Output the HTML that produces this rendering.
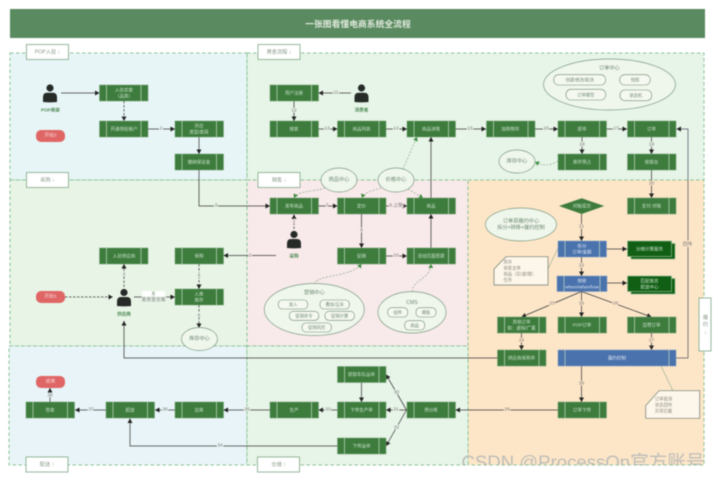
<!DOCTYPE html>
<html><head><meta charset="utf-8">
<style>
html,body{margin:0;padding:0;background:#fff;width:720px;height:481px;overflow:hidden}
svg{display:block;filter:blur(.4px)}
text{font-family:"Liberation Sans","Noto Sans CJK SC",sans-serif;text-anchor:middle;dominant-baseline:central}
.z{stroke:#8cc496;stroke-width:1;stroke-dasharray:3.5 2.5}
.n{fill:#3e7c3e;stroke:#6ea06e;stroke-width:.5}
.nb{fill:#4a72ac;stroke:#7d9cc8;stroke-width:.5}
.nd{fill:#115f15;stroke:#8fb98f;stroke-width:.7}
.b{stroke:#c3dcc3;stroke-width:.7;fill:none}
.t{font-size:4.5px;fill:#c9e0c9}
.tw{font-size:4.5px;fill:#d9e4f3}
.l{stroke:#3a3a3a;stroke-width:.75;fill:none;marker-end:url(#a)}
.ld{stroke:#3a3a3a;stroke-width:.75;fill:none;marker-end:url(#a);stroke-dasharray:2.5 1.5}
.g{stroke:#7fa57f;stroke-width:.6;fill:none;stroke-dasharray:2 1.5;marker-end:url(#g)}
.num{font-size:4.8px;fill:#777;paint-order:stroke;stroke-width:1.8}
.lg{stroke:#e8f4e8}.lr{stroke:#f8e9ea}.lo{stroke:#fde6c8}.lb{stroke:#e8f5f7}
.e{fill:#eff6ec;stroke:#7c9b80;stroke-width:.7}
.et{font-size:5.2px;fill:#6f8a72}
.pl{fill:#f5f8f1;stroke:#6f8a72;stroke-width:.6}
.pt{font-size:4.3px;fill:#6f8a72}
.zb{fill:#fff;stroke:#7da684;stroke-width:.8}
.zt{font-size:5.2px;fill:#8a9a8a}
.r{fill:#e06666}
.rt{font-size:4.8px;fill:#f8d6d6}
.p{fill:#262b28}
.pn{font-size:4.6px;fill:#4f8a55;font-weight:bold}
.nt{fill:#fdf6ea;stroke:#6d7a6d;stroke-width:.7}
.ntt{font-size:4.3px;fill:#8a8a80;text-anchor:start}
</style></head><body>
<svg width="720" height="481" viewBox="0 0 720 481" xmlns="http://www.w3.org/2000/svg">
<defs>
<marker id="a" markerUnits="userSpaceOnUse" markerWidth="5" markerHeight="5" refX="4.5" refY="2.5" orient="auto"><path d="M0 0L4.5 2.5L0 5z" fill="#222"/></marker>
<marker id="g" markerUnits="userSpaceOnUse" markerWidth="5" markerHeight="5" refX="4" refY="2.5" orient="auto"><path d="M0 0L4 2.5L0 5z" fill="#3e8c3e"/></marker>
<clipPath id="wm"><rect x="440" y="440" width="265" height="25"/></clipPath>
</defs>
<rect width="720" height="481" fill="#fff"/>

<!-- title -->
<rect x="10" y="9" width="695" height="29" fill="#5a8a5f"/>
<text x="358" y="24" style="font-size:8.8px;font-weight:bold;fill:#dfe9dc">一张图看懂电商系统全流程</text>

<!-- zones -->
<rect class="z" x="10" y="53" width="237" height="127" fill="#e8f5f7"/>
<rect class="z" x="247" y="53" width="457" height="127" fill="#e7f4e8"/>
<rect class="z" x="10" y="180" width="237" height="166" fill="#e8f4e6"/>
<rect class="z" x="247" y="180" width="221" height="166" fill="#f8e9ea"/>
<rect class="z" x="468" y="180" width="236" height="285" fill="#fde6c8"/>
<rect class="z" x="9" y="346" width="238" height="119" fill="#e8f4f7"/>
<rect class="z" x="247" y="346" width="221" height="119" fill="#e7f4e8"/>

<!-- watermark -->
<g clip-path="url(#wm)"><text x="583" y="468.500" style="font-size:18.6px;fill:#bdbdb8;dominant-baseline:auto">CSDN @ProcessOn官方账号</text></g>

<!-- zone labels -->
<rect class="zb" x="26.5" y="44.5" width="42" height="15"/><text class="zt" x="47.5" y="52.5">POP入驻 ↓</text>
<rect class="zb" x="258" y="44.5" width="42" height="15"/><text class="zt" x="279" y="52.5">黄金流程 ↓</text>
<rect class="zb" x="26.5" y="172.5" width="42" height="15"/><text class="zt" x="47.5" y="180.5">采购 ↓</text>
<rect class="zb" x="258" y="172.5" width="42" height="15"/><text class="zt" x="279" y="180.5">销售 ↓</text>
<rect class="zb" x="26" y="457" width="42" height="15"/><text class="zt" x="47" y="465">配送 ↑</text>
<rect class="zb" x="257.5" y="457" width="42" height="15"/><text class="zt" x="278.5" y="465">仓储 ↑</text>
<rect class="zb" x="699" y="298" width="12" height="53"/>
<text class="zt" x="705.5" y="318">履</text><text class="zt" x="705.5" y="325">约</text><text class="zt" x="705.5" y="333">↓</text>

<!-- connectors -->
<path class="l" d="M61 93H99.5"/>
<path class="ld" d="M124 101V121"/>
<path class="l" d="M148 129H175"/>
<path class="l" d="M199 137V154"/>
<path class="l" d="M199 170V206H270"/>
<path class="l" d="M351 93H318.5"/>
<path class="l" d="M294 101V121"/>
<path class="l" d="M318.500 129H337.500"/>
<path class="l" d="M386 129H407"/>
<path class="l" d="M455 129H486"/>
<path class="l" d="M535 129H558"/>
<path class="l" d="M606 129H627"/>
<path class="l" d="M582 137V154"/>
<path class="l" d="M651.500 137V154"/>
<path class="l" d="M651.500 170V198"/>
<path class="g" d="M558 161C550 166 544 166 535 162"/>
<path class="g" d="M403 169L417 137"/>
<path class="l" d="M431 198V137"/>
<path class="g" d="M325 188C315 192 298 190 294 198"/>
<path class="g" d="M381 188C372 191 364 192 362 198"/>
<path class="g" d="M408 189L423 198"/>
<path class="l" d="M318.500 206H337.500"/>
<path class="l" d="M386 206H407"/>
<path class="l" d="M361.500 214V248"/>
<path class="l" d="M386 256H407"/>
<path class="l" d="M431 248V214"/>
<path class="ld" d="M294 229V214.500"/>
<path class="l" d="M276 255.500H223.500"/>
<path class="ld" d="M199 264V289"/>
<path class="l" d="M134 297H175"/>
<path class="ld" d="M124 287V264"/>
<path class="ld" d="M65 297H113"/>
<path class="ld" d="M199 305V328"/>
<path class="l" d="M497.500 358H124V321"/>
<path class="l" d="M676 358H688V129H676.500" style="stroke:#556"/>
<path class="l" d="M581.500 214V241"/>
<path class="l" d="M581.500 257V276"/>
<path class="l" d="M606 249H627"/>
<path class="l" d="M607 283H627"/>
<path class="l" d="M581.500 291.500L521.500 317"/>
<path class="l" d="M581.500 291.500V317"/>
<path class="l" d="M581.500 291.500L651.500 317"/>
<path class="l" d="M521.500 333V350"/>
<path class="l" d="M651.500 333V350"/>
<path class="l" d="M581.500 366V402"/>
<path class="l" d="M558 410H455.500"/>
<path class="l" d="M407 410H386"/>
<path class="l" d="M337.500 410H318.500"/>
<path class="l" d="M270 410H223.500"/>
<path class="l" d="M175 410H155"/>
<path class="l" d="M106 410H75"/>
<path class="l" d="M50 402V388"/>
<path class="l" d="M337.500 446H130V418.500"/>
<path class="l" d="M406.500 410L386 374.500"/>
<path class="l" d="M406.500 410L386 446"/>
<path class="l" d="M361.500 382V402"/>
<path class="g" d="M314 284C318 274 350 278 361.500 264"/>
<path class="g" d="M412 292C414 278 430 280 431 264"/>
<path d="M548 269L558 248M661 366L673 391" stroke="#8fa98f" stroke-width=".6" fill="none"/>

<!-- numbers -->
<text class="num lb" x="161" y="129">2</text>
<text class="num lg" x="336" y="93">11</text>
<text class="num lg" x="294" y="111">12</text>
<text class="num lg" x="327" y="129">13</text>
<text class="num lg" x="396" y="129">14</text>
<text class="num lg" x="470" y="129">15</text>
<text class="num lg" x="546" y="129">16</text>
<text class="num lg" x="616" y="129">17</text>
<text class="num lg" x="582" y="145">18</text>
<text class="num lg" x="651.500" y="145">19</text>
<text class="num lo" x="651.500" y="184">20</text>
<text class="num lg" x="216" y="206">3</text>
<text class="num lr" x="327" y="206">7</text>
<text class="num lr" x="396" y="206">8.上架</text>
<text class="num lr" x="361.500" y="231">9</text>
<text class="num lr" x="396" y="256">10</text>
<text class="num lr" x="294" y="222">1</text>
<text class="num lr" x="250" y="256">2</text>
<text class="num lg" x="199" y="276">4</text>
<text class="num lg" x="124" y="275">3</text>
<text class="num lg" x="199" y="316">6</text>
<rect x="142" y="291" width="23" height="6" fill="#fff"/>
<text class="num lg" x="153.500" y="294.500">5</text>
<text class="num lg" x="153.500" y="300.500">发货至仓库</text>
<text class="num lo" x="581.500" y="227">21</text>
<text class="num lo" x="581.500" y="266">22</text>
<text class="num lo" x="552" y="304">23</text>
<text class="num lo" x="581.500" y="304">25</text>
<text class="num lo" x="615.500" y="304">26</text>
<text class="num lo" x="521.500" y="341">24</text>
<text class="num lo" x="651.500" y="341">27</text>
<text class="num lo" x="581.500" y="384">28</text>
<text class="num lo" x="507" y="410">29</text>
<text class="num lo" x="687.500" y="245">回传</text>
<text class="num lg" x="396" y="410">31</text>
<text class="num lg" x="328" y="410">33</text>
<text class="num lg" x="247" y="410">35</text>
<text class="num lb" x="165" y="410">36</text>
<text class="num lb" x="91" y="410">37</text>
<text class="num lb" x="50" y="396">38</text>
<text class="num lb" x="220" y="446">34</text>
<text class="num lg" x="396.500" y="393">30</text>
<text class="num lg" x="396.500" y="428">32</text>

<!-- terminators -->
<rect class="r" x="36" y="130" width="29" height="12" rx="5"/><text class="rt" x="50.500" y="136">开始2</text>
<rect class="r" x="36" y="291" width="29" height="12" rx="5"/><text class="rt" x="50.500" y="297">开始1</text>
<rect class="r" x="36" y="376" width="29" height="12" rx="5"/><text class="rt" x="50.500" y="382">结束</text>

<!-- persons -->
<circle class="p" cx="50" cy="88" r="3.600"/><path class="p" d="M43 102V97.500Q43 92.800 47 92.800H53Q57 92.800 57 97.500V102Q50 102.800 43 102z"/><text class="pn" x="50.500" y="110">POP商家</text>
<circle class="p" cx="361.500" cy="88" r="3.600"/><path class="p" d="M354.500 102V97.500Q354.500 92.800 358.500 92.800H364.500Q368.500 92.800 368.500 97.500V102Q361.500 102.800 354.500 102z"/><text class="pn" x="361.500" y="110">消费者</text>
<circle class="p" cx="294" cy="234.500" r="3.600"/><path class="p" d="M287 248V243.500Q287 239 291 239H297Q301 239 301 243.500V248Q294 248.800 287 248z"/><text class="pn" x="294" y="256">采购</text>
<circle class="p" cx="124" cy="292.500" r="3.600"/><path class="p" d="M117 306V301.500Q117 297 121 297H127Q131 297 131 301.500V306Q124 306.800 117 306z"/><text class="pn" x="124" y="314">供应商</text>

<!-- green nodes -->
<rect class="n" x="99.500" y="85" width="48.500" height="16"/><path class="b" d="M106.500 85v16M141 85v16"/><text class="t" x="124" y="90">入驻卖家</text><text class="t" x="124" y="96">（品类）</text>
<rect class="n" x="99.500" y="121" width="48.500" height="16"/><path class="b" d="M106.500 121v16M141 121v16"/><text class="t" x="124" y="129">开通领投账户</text>
<rect class="n" x="175" y="121" width="48.500" height="16"/><path class="b" d="M182 121v16M216.500 121v16"/><text class="t" x="199" y="126">开店</text><text class="t" x="199" y="132">类型/类目</text>
<rect class="n" x="175" y="154" width="48.500" height="16"/><path class="b" d="M182 154v16M216.500 154v16"/><text class="t" x="199" y="162">缴纳保证金</text>
<rect class="n" x="270" y="85" width="48.500" height="16"/><path class="b" d="M277 85v16M311.500 85v16"/><text class="t" x="294" y="93">用户注册</text>
<rect class="n" x="270" y="121" width="48.500" height="16"/><path class="b" d="M277 121v16M311.500 121v16"/><text class="t" x="294" y="129">搜索</text>
<rect class="n" x="337.500" y="121" width="48.500" height="16"/><path class="b" d="M344.500 121v16M379 121v16"/><text class="t" x="361.500" y="129">商品列表</text>
<rect class="n" x="407" y="121" width="48.500" height="16"/><path class="b" d="M414 121v16M448.500 121v16"/><text class="t" x="431" y="129">商品详情</text>
<rect class="n" x="486.500" y="121" width="48.500" height="16"/><path class="b" d="M493.500 121v16M528 121v16"/><text class="t" x="510.500" y="129">加购物车</text>
<rect class="n" x="558" y="121" width="48.500" height="16"/><path class="b" d="M565 121v16M599.500 121v16"/><text class="t" x="582" y="129">提单</text>
<rect class="n" x="627.500" y="121" width="48.500" height="16"/><path class="b" d="M634.500 121v16M669 121v16"/><text class="t" x="651.500" y="129">订单</text>
<rect class="n" x="558" y="154" width="48.500" height="16"/><path class="b" d="M565 154v16M599.500 154v16"/><text class="t" x="582" y="162">库存预占</text>
<rect class="n" x="627.500" y="154" width="48.500" height="16"/><path class="b" d="M634.500 154v16M669 154v16"/><text class="t" x="651.500" y="162">收银台</text>
<rect class="n" x="627.500" y="198" width="48.500" height="16"/><path class="b" d="M634.500 198v16M669 198v16"/><text class="t" x="651.500" y="206">支付-对账</text>
<rect class="n" x="270" y="198" width="48.500" height="16"/><path class="b" d="M277 198v16M311.500 198v16"/><text class="t" x="294" y="206">发布商品</text>
<rect class="n" x="337.500" y="198" width="48.500" height="16"/><path class="b" d="M344.500 198v16M379 198v16"/><text class="t" x="361.500" y="206">定价</text>
<rect class="n" x="407" y="198" width="48.500" height="16"/><path class="b" d="M414 198v16M448.500 198v16"/><text class="t" x="431" y="206">商品</text>
<rect class="n" x="337.500" y="248" width="48.500" height="16"/><path class="b" d="M344.500 248v16M379 248v16"/><text class="t" x="361.500" y="256">促销</text>
<rect class="n" x="407" y="248" width="48.500" height="16"/><path class="b" d="M414 248v16M448.500 248v16"/><text class="t" x="431" y="256">活动页面搭建</text>
<rect class="n" x="99.500" y="248" width="48.500" height="16"/><path class="b" d="M106.500 248v16M141 248v16"/><text class="t" x="124" y="256">入驻供应商</text>
<rect class="n" x="175" y="248" width="48.500" height="16"/><path class="b" d="M182 248v16M216.500 248v16"/><text class="t" x="199" y="256">采购</text>
<rect class="n" x="175" y="289" width="48.500" height="16"/><path class="b" d="M182 289v16M216.500 289v16"/><text class="t" x="199" y="294">入库</text><text class="t" x="199" y="300">库存</text>
<rect class="n" x="497.500" y="317" width="48.500" height="16"/><path class="b" d="M504.500 317v16M539 317v16"/><text class="t" x="521.500" y="322">其他订单</text><text class="t" x="521.500" y="328">如：虚拟/广置</text>
<rect class="n" x="558" y="317" width="48.500" height="16"/><path class="b" d="M565 317v16M599.500 317v16"/><text class="t" x="582" y="325">POP订单</text>
<rect class="n" x="627.500" y="317" width="48.500" height="16"/><path class="b" d="M634.500 317v16M669 317v16"/><text class="t" x="651.500" y="325">自营订单</text>
<rect class="n" x="497.500" y="350" width="48.500" height="16"/><path class="b" d="M504.500 350v16M539 350v16"/><text class="t" x="521.500" y="358">供应商采购单</text>
<rect class="n" x="558" y="402" width="48.500" height="16"/><path class="b" d="M565 402v16M599.500 402v16"/><text class="t" x="582" y="410">订单下传</text>
<rect class="n" x="26" y="402" width="48.500" height="16"/><path class="b" d="M33 402v16M67.500 402v16"/><text class="t" x="50" y="410">签收</text>
<rect class="n" x="106" y="402" width="48.500" height="16"/><path class="b" d="M113 402v16M147.500 402v16"/><text class="t" x="130" y="410">配送</text>
<rect class="n" x="175" y="402" width="48.500" height="16"/><path class="b" d="M182 402v16M216.500 402v16"/><text class="t" x="199" y="410">出库</text>
<rect class="n" x="270" y="402" width="48.500" height="16"/><path class="b" d="M277 402v16M311.500 402v16"/><text class="t" x="294" y="410">生产</text>
<rect class="n" x="337.500" y="402" width="48.500" height="16"/><path class="b" d="M344.500 402v16M379 402v16"/><text class="t" x="361.500" y="410">下传生产单</text>
<rect class="n" x="407" y="402" width="48.500" height="16"/><path class="b" d="M414 402v16M448.500 402v16"/><text class="t" x="431" y="410">预分拣</text>
<rect class="n" x="337.500" y="366.500" width="48.500" height="16"/><path class="b" d="M344.500 366.500v16M379 366.500v16"/><text class="t" x="361.500" y="374.500">获取车队运单</text>
<rect class="n" x="337.500" y="438" width="48.500" height="16"/><path class="b" d="M344.500 438v16M379 438v16"/><text class="t" x="361.500" y="446">下传运单</text>

<!-- blue nodes -->
<rect class="nb" x="558" y="241" width="48.500" height="16"/><path class="b" d="M565 241v16M599.500 241v16"/><text class="tw" x="582" y="246">拆分</text><text class="tw" x="582" y="252">订单/金额</text>
<rect class="nb" x="557" y="276" width="50" height="15.500"/><path class="b" d="M564 276v15.500M600 276v15.500"/><text class="tw" x="582" y="281">转移</text><text class="tw" x="582" y="287">where/when/how</text>
<rect class="nb" x="558" y="350" width="118" height="16"/><path class="b" d="M565 350v16M669 350v16"/><text class="tw" x="617" y="358">履约控制</text>

<!-- dark double nodes -->
<rect class="nd" x="631" y="243.500" width="44" height="15.500"/><rect class="nd" x="627.500" y="241" width="44" height="15.500"/><text class="t" x="649.500" y="249">分摊计算服务</text>
<rect class="nd" x="631" y="278.500" width="44" height="15.500"/><rect class="nd" x="627.500" y="276" width="44" height="15.500"/><text class="t" x="649.500" y="281">匹配库房</text><text class="t" x="649.500" y="287">配送中心</text>

<!-- diamond -->
<path d="M559 206L581.700 198.300L604.300 206L581.700 214z" fill="#3e7c3e"/><text class="t" x="581.700" y="206">对账成功</text>

<!-- ellipses -->
<ellipse class="e" cx="339" cy="180" rx="18" ry="12"/><text class="et" x="339" y="180">商品中心</text>
<ellipse class="e" cx="396" cy="180" rx="18" ry="12"/><text class="et" x="396" y="180">价格中心</text>
<ellipse class="e" cx="517" cy="161.500" rx="18" ry="11.500"/><text class="et" x="517" y="161.500">库存中心</text>
<ellipse class="e" cx="199.500" cy="339" rx="18" ry="11.500"/><text class="et" x="199.500" y="339">库存中心</text>
<ellipse class="e" cx="521" cy="224.500" rx="35.500" ry="16.500"/><text class="et" x="521" y="221.500">订单原履约中心</text><text class="et" x="521" y="228">拆分+转移+履约控制</text>

<ellipse class="e" cx="609.500" cy="84.500" rx="66" ry="25.500"/><text class="et" x="609.500" y="68.500">订单中心</text>
<rect class="pl" x="553.700" y="74.700" width="52" height="10.300" rx="5"/><text class="pt" x="579.700" y="80">创建/修改/取消</text>
<rect class="pl" x="619.700" y="74.700" width="30.600" height="10.300" rx="5"/><text class="pt" x="635" y="80">快照</text>
<rect class="pl" x="566" y="89.300" width="39.700" height="10.700" rx="5"/><text class="pt" x="585.800" y="94.800">订单模型</text>
<rect class="pl" x="620" y="90" width="31.700" height="10.700" rx="5"/><text class="pt" x="635.800" y="95.500">状态机</text>

<ellipse class="e" cx="314.300" cy="309.500" rx="50" ry="26"/><text class="et" x="314.300" y="293">营销中心</text>
<rect class="pl" x="278.300" y="300" width="29.400" height="9" rx="4"/><text class="pt" x="293" y="304.500">准入</text>
<rect class="pl" x="320" y="300" width="29.400" height="9" rx="4"/><text class="pt" x="334.700" y="304.500">叠加/互斥</text>
<rect class="pl" x="289.300" y="311.300" width="29.400" height="9" rx="4"/><text class="pt" x="304" y="315.800">促销命令</text>
<rect class="pl" x="325" y="311.300" width="29.400" height="9" rx="4"/><text class="pt" x="339.700" y="315.800">促销计算</text>
<rect class="pl" x="302" y="323" width="29.400" height="9" rx="4"/><text class="pt" x="316.700" y="327.500">促销风控</text>

<ellipse class="e" cx="412" cy="312.300" rx="34" ry="20.700"/><text class="et" x="412" y="303">CMS</text>
<rect class="pl" x="387.700" y="307.700" width="20" height="9.300" rx="4"/><text class="pt" x="397.700" y="312.300">组件</text>
<rect class="pl" x="416" y="307.700" width="20" height="9.300" rx="4"/><text class="pt" x="426" y="312.300">模板</text>
<rect class="pl" x="404.700" y="320.700" width="20" height="9.300" rx="4"/><text class="pt" x="414.700" y="325.300">商品</text>

<!-- notes -->
<path class="nt" d="M494 269L506 256.700H548V285H494z"/>
<text class="ntt" x="503.500" y="262">库存</text><text class="ntt" x="503.500" y="268">商家主体</text><text class="ntt" x="503.500" y="274">商品（实/虚/赠）</text><text class="ntt" x="503.500" y="280">任务</text>
<path class="nt" d="M645.700 405.700L659 390.700H699.700V418.300H645.700z"/>
<text class="ntt" x="655" y="399">订单取消</text><text class="ntt" x="655" y="405">状态回传</text><text class="ntt" x="655" y="411">异常拦截</text>
</svg>
</body></html>
